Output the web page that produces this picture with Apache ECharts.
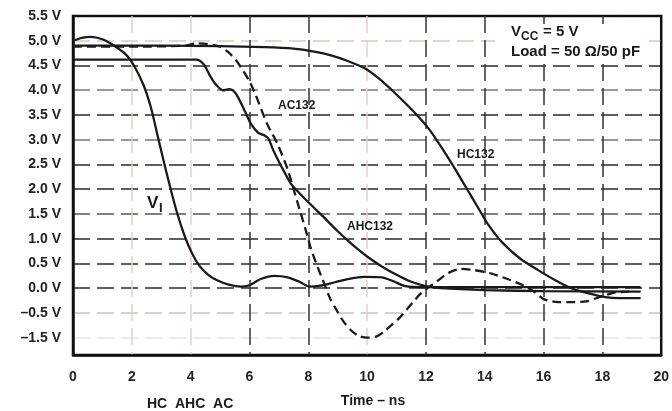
<!DOCTYPE html>
<html><head><meta charset="utf-8">
<script src="https://cdn.jsdelivr.net/npm/echarts@6/dist/echarts.min.js"></script>
<style>html,body{margin:0;padding:0;background:#fff}#c{width:672px;height:411px}</style>
</head><body><div id="c"></div>
<script>
// ---- data (time in ns, voltage in V) ----
const xTicks = [0, 2, 4, 6, 8, 10, 12, 14, 16, 18, 20];
const yTickVolts = [-1.5, -0.5, 0.0, 0.5, 1.0, 1.5, 2.0, 2.5, 3.0, 3.5, 4.0, 4.5, 5.0, 5.5];
const yTickLabels = ['\u20131.5 V', '\u20130.5 V', '0.0 V', '0.5 V', '1.0 V', '1.5 V', '2.0 V', '2.5 V', '3.0 V', '3.5 V', '4.0 V', '4.5 V', '5.0 V', '5.5 V'];

const VI = [[0,5.0],[0.3,5.06],[0.6,5.08],[1.0,5.03],[1.4,4.9],[1.8,4.72],[2.1,4.47],[2.4,4.1],[2.65,3.65],[2.85,3.15],[3.05,2.65],[3.3,2.05],[3.55,1.5],[3.8,1.05],[4.05,0.7],[4.3,0.45],[4.6,0.27],[4.9,0.16],[5.3,0.07],[5.7,0.03],[6.0,0.06],[6.4,0.19],[6.85,0.25],[7.3,0.22],[7.7,0.13],[8.05,0.03],[8.4,0.05],[8.9,0.12],[9.4,0.19],[9.9,0.23],[10.5,0.22],[10.9,0.14],[11.3,0.04],[12.0,0.02],[19.3,0.02]];
const HC132 = [[0,4.9],[3,4.9],[5,4.89],[6.5,4.87],[7.5,4.84],[8.2,4.78],[8.8,4.7],[9.3,4.6],[9.9,4.45],[10.4,4.24],[10.9,3.97],[11.5,3.62],[12.1,3.22],[12.6,2.78],[13.0,2.4],[13.45,1.95],[13.8,1.6],[14.1,1.3],[14.6,0.92],[15.2,0.6],[15.8,0.37],[16.4,0.16],[16.9,0.01],[17.5,-0.1],[18.1,-0.18],[18.6,-0.2],[19.3,-0.2]];
const AHC132 = [[0,4.62],[4.2,4.62],[4.45,4.52],[4.65,4.3],[4.85,4.12],[5.1,4.0],[5.3,4.02],[5.45,3.99],[5.6,3.87],[5.85,3.57],[6.05,3.32],[6.3,3.14],[6.5,3.09],[6.65,3.02],[6.8,2.8],[7.05,2.5],[7.4,2.12],[7.7,1.92],[8.1,1.68],[8.5,1.45],[9.0,1.15],[9.5,0.88],[10.0,0.64],[10.5,0.44],[11.0,0.27],[11.5,0.13],[12.0,0.04],[12.5,0.0],[14.0,-0.04],[16.0,-0.06],[19.3,-0.07]];
const AC132 = [[0,4.88],[2,4.88],[3.8,4.9],[4.2,4.95],[4.6,4.93],[5.0,4.88],[5.3,4.76],[5.55,4.6],[5.8,4.38],[6.0,4.18],[6.2,3.92],[6.6,3.32],[6.95,2.92],[7.3,2.4],[7.5,2.0],[7.7,1.6],[7.9,1.2],[8.1,0.78],[8.35,0.38],[8.55,0.08],[8.75,-0.22],[8.97,-0.45],[9.2,-0.85],[9.45,-1.2],[9.7,-1.42],[10.0,-1.5],[10.3,-1.46],[10.55,-1.28],[10.8,-1.02],[11.1,-0.7],[11.45,-0.36],[11.8,-0.12],[12.1,0.02],[12.4,0.15],[12.8,0.32],[13.2,0.39],[13.6,0.37],[14.2,0.3],[14.8,0.18],[15.3,0.06],[15.7,-0.08],[16.0,-0.22],[16.5,-0.28],[17.0,-0.28],[17.5,-0.26],[17.9,-0.18],[18.4,-0.09],[18.9,-0.07]];

// The original axis places the -1.5 V gridline one step below -0.5 V (compressed below -0.5 V)
function pos(v) { return v >= -0.5 ? v : -0.5 + (v + 0.5) / 2; }
const yTickPos = yTickVolts.map(pos);
const toPlot = arr => arr.map(p => [p[0], pos(p[1])]);

const FONT = '"Liberation Sans", Arial, sans-serif';
const INK = '#1a1a1a';

const chart = echarts.init(document.getElementById('c'), null, {renderer: 'canvas'});

const lineBase = {type: 'line', showSymbol: false, smooth: 0.25, silent: true, z: 5};

chart.setOption({
  animation: false,
  backgroundColor: '#fff',
  grid: {left: 73, right: 4, top: 16, bottom: 56, show: true, borderColor: '#111', borderWidth: 2.5, backgroundColor: 'transparent'},
  xAxis: {
    type: 'value', min: 0, max: 20, interval: 2,
    axisLine: {show: true, onZero: false, lineStyle: {color: '#111', width: 2.5}},
    axisTick: {show: false},
    axisLabel: {margin: 15, color: '#222', fontFamily: FONT, fontWeight: 'bold', fontSize: 14,
      formatter: v => xTicks.includes(v) ? String(v) : ''},
    splitLine: {show: true, lineStyle: {type: [17, 7], width: 1.5,
      color: ['#111', '#e2d2cc', '#e2d2cc', '#333', '#333', '#ecccc8', '#333', '#333', '#333', '#333', '#111']}}
  },
  yAxis: {
    type: 'value', min: -1.35, max: 5.5,
    axisLine: {show: true, onZero: false, lineStyle: {color: '#111', width: 2.5}},
    axisTick: {show: false, customValues: yTickPos},
    axisLabel: {margin: 12, color: '#222', fontFamily: FONT, fontWeight: 'bold', fontSize: 14,
      customValues: yTickPos,
      formatter: v => { const i = yTickPos.findIndex(p => Math.abs(p - v) < 1e-6); return i >= 0 ? yTickLabels[i] : ''; }},
    splitLine: {show: true, lineStyle: {type: [17, 7], width: 1.5,
      color: ['#e6e6e6', '#c4c4c4', '#2a2a2a', '#2a2a2a', '#2a2a2a', '#555', '#2a2a2a', '#2a2a2a', '#777', '#2a2a2a', '#777', '#2a2a2a', '#dccab8', '#111']}}
  },
  series: [
    Object.assign({}, lineBase, {name: 'VI', data: toPlot(VI), lineStyle: {color: INK, width: 2.3}}),
    Object.assign({}, lineBase, {name: 'HC132', data: toPlot(HC132), lineStyle: {color: INK, width: 2.3}}),
    Object.assign({}, lineBase, {name: 'AHC132', data: toPlot(AHC132), lineStyle: {color: INK, width: 2.3}}),
    Object.assign({}, lineBase, {name: 'AC132', data: toPlot(AC132), lineStyle: {color: INK, width: 2.3, type: [9, 5]}})
  ],
  graphic: [
    {type: 'rect', z: 50, shape: {x: 495, y: 24, width: 152, height: 36}, style: {fill: '#fff'}},
    {type: 'text', z: 100, x: 511, y: 32, style: {text: 'V', font: 'bold 15px ' + FONT, fill: INK, verticalAlign: 'middle'}},
    {type: 'text', z: 100, x: 521, y: 37, style: {text: 'CC', font: 'bold 12px ' + FONT, fill: INK, verticalAlign: 'middle'}},
    {type: 'text', z: 100, x: 543, y: 32, style: {text: '= 5 V', font: 'bold 15px ' + FONT, fill: INK, verticalAlign: 'middle'}},
    {type: 'text', z: 100, x: 511, y: 52, style: {text: 'Load = 50 \u03A9/50 pF', font: 'bold 15px ' + FONT, fill: INK, verticalAlign: 'middle'}},
    {type: 'text', z: 100, x: 278, y: 106, style: {text: 'AC132', font: 'bold 12px ' + FONT, fill: INK, verticalAlign: 'middle'}},
    {type: 'text', z: 100, x: 457, y: 155, style: {text: 'HC132', font: 'bold 12px ' + FONT, fill: INK, verticalAlign: 'middle'}},
    {type: 'text', z: 100, x: 347, y: 227, style: {text: 'AHC132', font: 'bold 12px ' + FONT, fill: INK, verticalAlign: 'middle'}},
    {type: 'text', z: 100, x: 147, y: 203, style: {text: 'V', font: 'bold 17px ' + FONT, fill: INK, verticalAlign: 'middle'}},
    {type: 'text', z: 100, x: 159, y: 208, style: {text: 'I', font: 'bold 13px ' + FONT, fill: INK, verticalAlign: 'middle'}},
    {type: 'text', z: 100, x: 373, y: 401, style: {text: 'Time \u2013 ns', font: 'bold 14px ' + FONT, fill: INK, align: 'center', verticalAlign: 'middle'}},
    {type: 'text', z: 100, x: 147, y: 404, style: {text: 'HC  AHC  AC', font: 'bold 14px ' + FONT, fill: INK, verticalAlign: 'middle'}}
  ]
});
</script></body></html>
